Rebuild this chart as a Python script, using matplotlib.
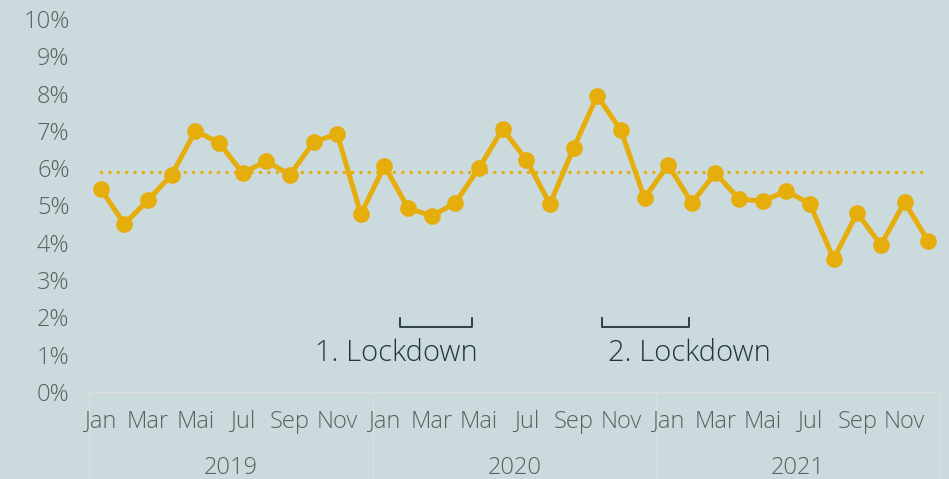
import numpy as np
import matplotlib
matplotlib.use("Agg")
import matplotlib.pyplot as plt
import matplotlib.transforms as mtransforms

# ------------------------------------------------------------
# Data
# ------------------------------------------------------------
years = ["2019", "2020", "2021"]
month_labels = ["Jan", "", "Mar", "", "Mai", "", "Jul", "", "Sep", "", "Nov", ""]

rate_2019 = [5.44, 4.50, 5.15, 5.82, 7.00, 6.68, 5.87, 6.19, 5.82, 6.70, 6.92, 4.77]
rate_2020 = [6.06, 4.93, 4.72, 5.07, 6.01, 7.05, 6.22, 5.04, 6.54, 7.94, 7.02, 5.20]
rate_2021 = [6.09, 5.07, 5.87, 5.17, 5.12, 5.39, 5.04, 3.57, 4.80, 3.94, 5.09, 4.05]
avg_rate = 5.89

lockdown_labels = ["1. Lockdown", "2. Lockdown"]
lockdown_spans = [(12.64, 15.72), (21.2, 24.9)]
lockdown_text_x = [12.5, 24.9]

values = rate_2019 + rate_2020 + rate_2021
x = np.arange(len(values))

# ------------------------------------------------------------
# Style
# ------------------------------------------------------------
bg = "#cadadd"
gold = "#e6ae0c"
grey = "#5e6060"
dark = "#24363a"
sep = "#dcdedb"
plt.rcParams["font.family"] = ["Open Sans", "DejaVu Sans"]
plt.rcParams["font.weight"] = "light"

fig = plt.figure(figsize=(9.49, 4.79), dpi=100, facecolor=bg)
ax = fig.add_axes([89 / 949, 1 - 392 / 479, (940 - 89) / 949, (392 - 19) / 479])
ax.set_facecolor(bg)

ax.plot([x[0], x[-1]], [avg_rate, avg_rate], color=gold, lw=2.5,
        linestyle=(0, (0.01, 2.4)), dash_capstyle="round", zorder=2)
ax.plot(x, values, color=gold, lw=3.6, marker="o", ms=11, zorder=3)

ax.set_xlim(-0.5, len(values) - 0.5)
ax.set_ylim(0, 10)
for s in ax.spines.values():
    s.set_visible(False)
ax.set_xticks([])
ax.set_yticks(np.arange(0, 11, 1))
ax.set_yticklabels([f"{v}%" for v in range(0, 11)])
ax.tick_params(axis="y", length=0, pad=14, labelsize=17, labelcolor=grey)

# bottom axis line and year separators
trans = mtransforms.blended_transform_factory(ax.transData, ax.transAxes)
ax.plot([-0.5, len(values) - 0.5], [0, 0], color=sep, lw=1, clip_on=False)
for b in np.arange(-0.5, len(values), 12):
    ax.plot([b, b], [0, -0.3], color=sep, lw=1, transform=trans, clip_on=False)

# month and year labels
for i in range(len(values)):
    lab = month_labels[i % 12]
    if lab:
        ax.text(i, -0.081, lab, transform=trans, ha="center", va="center",
                fontsize=17, color=grey)
for k, yr in enumerate(years):
    ax.text(12 * k + 5.5, -0.205, yr, transform=trans, ha="center", va="center",
            fontsize=17, color=grey)

# lockdown brackets
for (x0, x1), lab, tx in zip(lockdown_spans, lockdown_labels, lockdown_text_x):
    ax.plot([x0, x0, x1, x1], [1.98, 1.74, 1.74, 1.98], color=dark, lw=1.3)
    ax.text(tx, 1.05, lab, ha="center", va="center", fontsize=21, color=dark)

fig.savefig("out.png", dpi=100, facecolor=bg)
